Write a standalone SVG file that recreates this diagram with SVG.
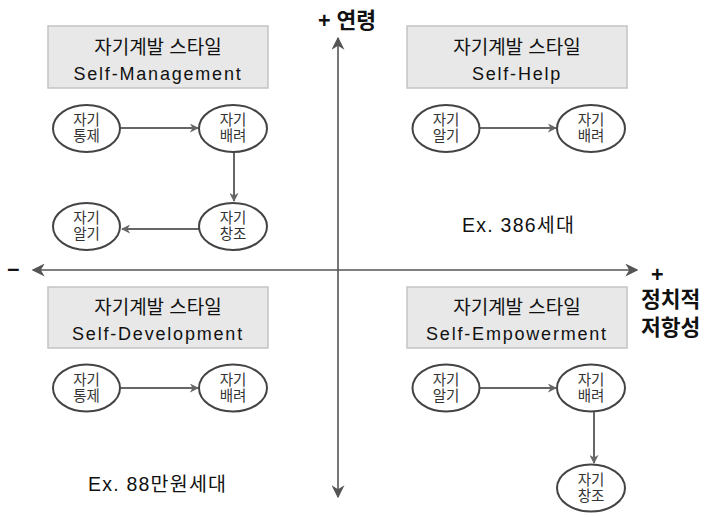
<svg xmlns="http://www.w3.org/2000/svg" width="713" height="517" viewBox="0 0 713 517">
<style>
text{font-family:"Liberation Sans","Noto Sans CJK KR",sans-serif;fill:#111}
.box{fill:#e8e8e8;stroke:#c4c4c4;stroke-width:1.5}
.bt{font-size:19px;text-anchor:middle}
.bl{font-size:18px;text-anchor:middle;letter-spacing:1.8px}
.el{fill:#fff;stroke:#444;stroke-width:2}
.et{font-size:14.5px;text-anchor:middle;fill:#333}
.ar{stroke:#666;stroke-width:2;fill:none}
.ax{stroke:#555;stroke-width:1.6;fill:none}
.lb{font-size:21.5px;font-weight:bold}
.ex{font-size:19.5px}
</style>
<defs>
<marker id="ah" viewBox="0 0 10 10" refX="9" refY="5" markerWidth="9" markerHeight="9" markerUnits="userSpaceOnUse" orient="auto"><path d="M0,0 L10,5 L0,10 L3,5 z" fill="#666"/></marker>
<marker id="axh" viewBox="0 0 10 10" refX="9" refY="5" markerWidth="13" markerHeight="13" markerUnits="userSpaceOnUse" orient="auto-start-reverse"><path d="M0,0 L10,5 L0,10 L3,5 z" fill="#555"/></marker>
</defs>
<g id="axes">
<line class="ax" x1="338" y1="38" x2="338" y2="497" marker-start="url(#axh)" marker-end="url(#axh)"/>
<line class="ax" x1="33" y1="270" x2="637" y2="270" marker-start="url(#axh)" marker-end="url(#axh)"/>
<text class="lb" x="318" y="28">+ 연령</text>
<text class="lb" x="7" y="277">−</text>
<text class="lb" x="651" y="282">+</text>
<text class="lb" x="641" y="307">정치적</text>
<text class="lb" x="641" y="335">저항성</text>
</g>
<g id="connectors">
<line class="ar" x1="120" y1="128" x2="198" y2="128" marker-end="url(#ah)"/>
<line class="ar" x1="234" y1="152" x2="234" y2="201" marker-end="url(#ah)"/>
<line class="ar" x1="199" y1="229" x2="122" y2="229" marker-end="url(#ah)"/>
<line class="ar" x1="480" y1="128" x2="556" y2="128" marker-end="url(#ah)"/>
<line class="ar" x1="120" y1="388" x2="198" y2="388" marker-end="url(#ah)"/>
<line class="ar" x1="480" y1="388" x2="556" y2="388" marker-end="url(#ah)"/>
<line class="ar" x1="594" y1="412" x2="594" y2="463" marker-end="url(#ah)"/>
</g>
<g id="q1-title"><rect class="box" x="48" y="26" width="220" height="62"/><text class="bt" x="158" y="54">자기계발 스타일</text><text class="bl" x="158" y="80">Self-Management</text></g>
<g id="q1-tongje"><ellipse class="el" cx="86.5" cy="128.5" rx="33.5" ry="23.5"/><text class="et" x="86.5" y="125">자기</text><text class="et" x="86.5" y="141">통제</text></g>
<g id="q1-baeryeo"><ellipse class="el" cx="233" cy="128.5" rx="34" ry="23.5"/><text class="et" x="233" y="125">자기</text><text class="et" x="233" y="141">배려</text></g>
<g id="q1-changjo"><ellipse class="el" cx="233" cy="226.5" rx="34" ry="23.5"/><text class="et" x="233" y="223">자기</text><text class="et" x="233" y="239">창조</text></g>
<g id="q1-algi"><ellipse class="el" cx="86.5" cy="226.5" rx="33.5" ry="23.5"/><text class="et" x="86.5" y="223">자기</text><text class="et" x="86.5" y="239">알기</text></g>

<g id="q2-title"><rect class="box" x="407" y="26" width="220" height="62"/><text class="bt" x="517" y="54">자기계발 스타일</text><text class="bl" x="517" y="80">Self-Help</text></g>
<g id="q2-algi"><ellipse class="el" cx="446" cy="128.5" rx="33.5" ry="23.5"/><text class="et" x="446" y="125">자기</text><text class="et" x="446" y="141">알기</text></g>
<g id="q2-baeryeo"><ellipse class="el" cx="591" cy="128.5" rx="34" ry="23.5"/><text class="et" x="591" y="125">자기</text><text class="et" x="591" y="141">배려</text></g>
<text class="ex" x="462" y="232" textLength="112" lengthAdjust="spacing">Ex. 386세대</text>

<g id="q3-title"><rect class="box" x="48" y="287" width="220" height="61"/><text class="bt" x="158" y="314">자기계발 스타일</text><text class="bl" x="158" y="340">Self-Development</text></g>
<g id="q3-tongje"><ellipse class="el" cx="86.5" cy="388" rx="33.5" ry="23.5"/><text class="et" x="86.5" y="384.5">자기</text><text class="et" x="86.5" y="400.5">통제</text></g>
<g id="q3-baeryeo"><ellipse class="el" cx="233" cy="388" rx="34" ry="23.5"/><text class="et" x="233" y="384.5">자기</text><text class="et" x="233" y="400.5">배려</text></g>
<text class="ex" x="88" y="491" textLength="138" lengthAdjust="spacing">Ex. 88만원세대</text>

<g id="q4-title"><rect class="box" x="407" y="287" width="220" height="61"/><text class="bt" x="517" y="314">자기계발 스타일</text><text class="bl" x="517" y="340">Self-Empowerment</text></g>
<g id="q4-algi"><ellipse class="el" cx="446" cy="388" rx="33.5" ry="23.5"/><text class="et" x="446" y="384.5">자기</text><text class="et" x="446" y="400.5">알기</text></g>
<g id="q4-baeryeo"><ellipse class="el" cx="591" cy="388" rx="34" ry="23.5"/><text class="et" x="591" y="384.5">자기</text><text class="et" x="591" y="400.5">배려</text></g>
<g id="q4-changjo"><ellipse class="el" cx="591" cy="488" rx="34" ry="23.5"/><text class="et" x="591" y="484.5">자기</text><text class="et" x="591" y="500.5">창조</text></g>
</svg>
